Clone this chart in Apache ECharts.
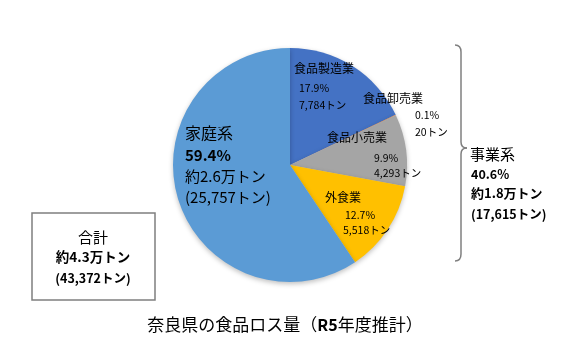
<!DOCTYPE html>
<html><head><meta charset="utf-8">
<script src="https://cdn.jsdelivr.net/npm/echarts@6/dist/echarts.min.js"></script>
<style>html,body{margin:0;padding:0;background:#fff}#c{width:572px;height:364px}</style>
</head><body><div id="c"></div>
<script>
const categories = ['食品製造業', '食品卸売業', '食品小売業', '外食業', '家庭系'];
const values = [7784, 20, 4293, 5518, 25757];
const percents = [17.9, 0.1, 9.9, 12.7, 59.4];
const colors = ['#4472C4', '#ED7D31', '#A5A5A5', '#FFC000', '#5B9BD5'];
const titleMain = '奈良県の食品ロス量';
const titleYear = 'R5';
const titleRest = '年度推計';
const businessName = '事業系';
const businessPct = 40.6;
const businessApprox = '約1.8万トン';
const businessTotal = 17615;
const totalName = '合計';
const totalApprox = '約4.3万トン';
const total = 43372;
const householdApprox = '約2.6万トン';

const fmt = n => n.toLocaleString('en-US');
const F = '"Noto Sans CJK JP", sans-serif';

// label layout positions (name, pct, value) for the small slices
const labelPos = [
  [[294, 68], [299, 88], [299, 105]],
  [[363, 98], [415, 115], [415, 132]],
  [[327, 137], [374, 158], [374, 173]],
  [[325, 197], [345, 215], [343, 230]]
];

const graphics = [];
function txt(x, y, s, size, weight, align) {
  graphics.push({type: 'text', x: x, y: y, z: 10, style: {text: s, font: (weight || 'normal') + ' ' + size + 'px ' + F, fill: '#000', textAlign: align || 'left', textVerticalAlign: 'middle'}});
}
function seg(x1, y1, x2, y2) {
  graphics.push({type: 'line', shape: {x1: x1, y1: y1, x2: x2, y2: y2}, style: {stroke: '#7F7F7F', lineWidth: 1.5}});
}
function curve(x1, y1, cx, cy, x2, y2) {
  graphics.push({type: 'bezierCurve', shape: {x1: x1, y1: y1, cpx1: cx, cpy1: cy, x2: x2, y2: y2}, style: {fill: null, stroke: '#7F7F7F', lineWidth: 1.5}});
}
for (let i = 0; i < 4; i++) {
  txt(labelPos[i][0][0], labelPos[i][0][1], categories[i], 12);
  txt(labelPos[i][1][0], labelPos[i][1][1], percents[i].toFixed(1) + '%', 10.5);
  txt(labelPos[i][2][0], labelPos[i][2][1], fmt(values[i]) + 'トン', 10.5);
}
// household
txt(185, 133, categories[4], 16);
txt(185, 155, percents[4].toFixed(1) + '%', 15, 'bold');
txt(185, 176, householdApprox, 15);
txt(185, 197, '(' + fmt(values[4]) + 'トン)', 15);
// business
txt(470, 154, businessName, 15);
txt(471, 174, businessPct.toFixed(1) + '%', 12.5, 'bold');
txt(471, 193, businessApprox, 13, 'bold');
txt(471, 214, '(' + fmt(businessTotal) + 'トン)', 12.5, 'bold');
// total box
graphics.push({type: 'rect', shape: {x: 32, y: 213, width: 123, height: 87}, style: {fill: '#fff', stroke: '#7F7F7F', lineWidth: 1.5}});
txt(93, 237, totalName, 15, 'normal', 'center');
txt(93, 257, totalApprox, 13.5, 'bold', 'center');
txt(93, 278, '(' + fmt(total) + 'トン)', 12.5, 'bold', 'center');
// bracket
curve(455, 45, 461, 45, 461, 52);
seg(461, 52, 461, 142);
curve(461, 142, 461, 148, 467, 148);
curve(467, 148, 461, 148, 461, 154);
seg(461, 154, 461, 254);
curve(461, 254, 461, 261, 455, 261);
// title
graphics.push({type: 'text', x: 285, y: 325, z: 10, style: {
  text: '{n|' + titleMain + '（}{b|' + titleYear + '}{n|' + titleRest + '）}',
  textAlign: 'center', textVerticalAlign: 'middle',
  rich: {
    n: {font: 'normal 17px ' + F, fill: '#000'},
    b: {font: 'bold 16px ' + F, fill: '#000'}
  }
}});

const chart = echarts.init(document.getElementById('c'));
chart.setOption({
  animation: false,
  backgroundColor: '#fff',
  series: [{
    type: 'pie',
    center: [290, 165],
    radius: 117,
    startAngle: 90,
    clockwise: true,
    label: {show: false},
    labelLine: {show: false},
    emphasis: {disabled: true},
    itemStyle: {borderWidth: 0, shadowBlur: 5, shadowColor: 'rgba(0,0,0,0.25)', shadowOffsetY: 2},
    data: categories.map((c, i) => ({name: c, value: values[i], itemStyle: {color: colors[i]}}))
  }],
  graphic: graphics
});
</script></body></html>
